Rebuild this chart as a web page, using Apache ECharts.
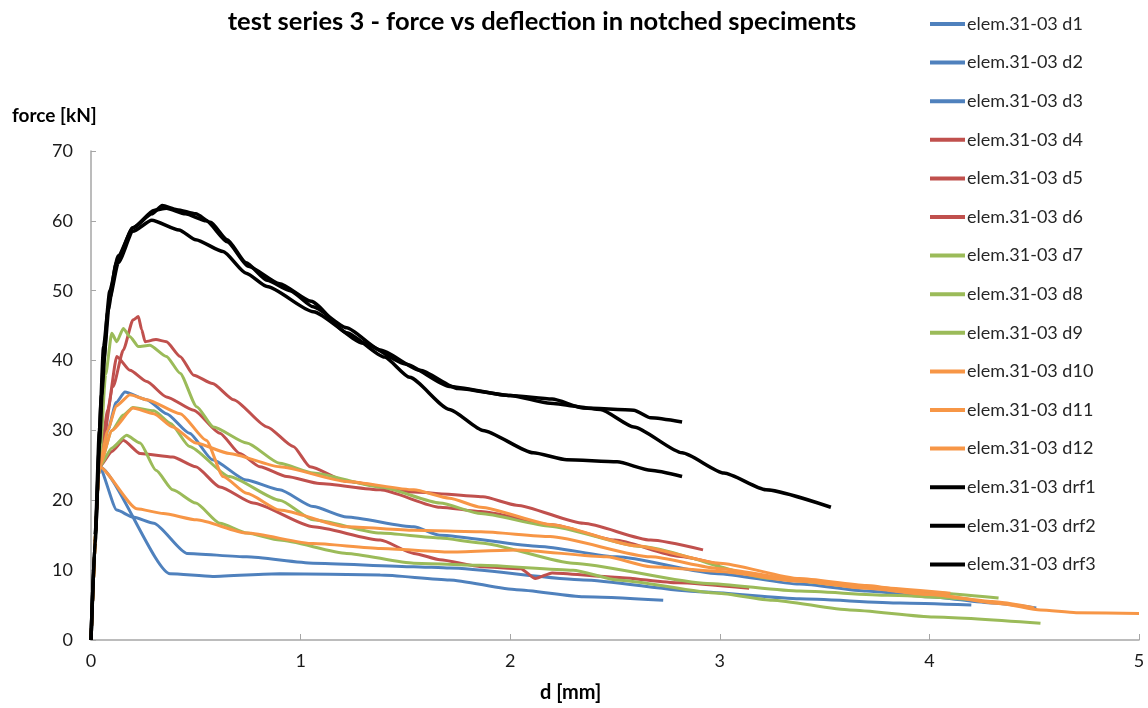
<!DOCTYPE html>
<html lang="en">
<head>
  <meta charset="UTF-8">
  <title>test series 3</title>
  <script src="https://cdn.jsdelivr.net/npm/echarts@6/dist/echarts.min.js"></script>
  <style>
    html, body { margin: 0; padding: 0; background: #fff; }
    #chart { width: 1148px; height: 708px; }
  </style>
</head>
<body>
  <div id="chart"></div>
  <script>
    // d [mm], force [kN]
    const d1 = [[0,0],[0.04,24.8],[0.08,30],[0.12,34],[0.162,35.5],[0.266,34.4],[0.36,32.4],[0.47,29.6],[0.58,25.8],[0.74,22.9],[0.9,21.5],[1.06,19.1],[1.22,17.6],[1.54,16.2],[1.665,15],[2.14,13.4],[2.51,11.9],[2.99,9.5],[3.38,8],[3.7,7],[4.0,6.2],[4.3,5.3],[4.51,4.6]]
    const d2 = [[0,0],[0.04,24.8],[0.377,9.5],[0.58,9.1],[0.9,9.5],[1.38,9.3],[1.71,8.6],[2.03,7.2],[2.35,6.2],[2.73,5.7]]
    const d3 = [[0,0],[0.04,24.8],[0.123,18.6],[0.2,17.6],[0.3,16.7],[0.457,12.4],[0.743,11.9],[1.06,11],[1.54,10.5],[1.71,10.3],[2.35,8.6],[2.9,6.9],[3.38,5.9],[3.86,5.3],[4.2,5.0]]
    const d4 = [[0,0],[0.04,24.8],[0.08,33],[0.123,40.6],[0.186,38.6],[0.266,37],[0.36,34.8],[0.49,32.9],[0.615,29.6],[0.71,26.7],[0.806,24.8],[0.934,23.4],[1.09,22.4],[1.38,21.5],[1.665,19],[1.86,18.4],[2.2,16.5],[2.5,14.3],[2.8,12],[3.0,10.8]]
    const d5 = [[0,0],[0.04,24.8],[0.106,36.3],[0.154,41.5],[0.2,45.8],[0.226,46.3],[0.242,44.4],[0.258,42.7],[0.31,43],[0.36,42.7],[0.425,40.6],[0.49,37.9],[0.58,36.7],[0.68,34.4],[0.84,30.5],[0.965,27.7],[1.045,24.8],[1.22,22.7],[1.54,21.2],[1.87,20.5],[2.03,19.3],[2.35,16.7],[2.67,14.3],[2.92,12.9]]
    const d6 = [[0,0],[0.04,24.8],[0.1,27],[0.154,28.6],[0.234,26.7],[0.39,26.2],[0.5,24.8],[0.615,21.9],[0.774,19.6],[1.06,16.2],[1.38,14.3],[1.54,12.4],[1.665,11.5],[1.86,10.5],[2.05,10.2],[2.12,8.8],[2.2,9.6],[2.5,9.0],[2.8,8.2],[3.14,7.4]]
    const d7 = [[0,0],[0.04,25],[0.07,38],[0.099,43.9],[0.123,42.7],[0.154,44.6],[0.186,43.4],[0.226,42],[0.28,42.2],[0.36,40.6],[0.425,38.2],[0.504,33.4],[0.584,30.5],[0.743,28.2],[0.9,25.3],[1.06,23.9],[1.38,21.9],[1.665,19.6],[1.86,18.1],[2.19,16.3],[2.62,13.4],[3.25,8.8],[3.7,7.5],[4.0,6.8],[4.33,6.0]]
    const d8 = [[0,0],[0.04,24.8],[0.1,30],[0.154,32.2],[0.2,33.3],[0.3,32.8],[0.38,31],[0.47,27.7],[0.66,23.4],[0.9,20],[1.06,17.2],[1.38,15.3],[1.665,14.6],[1.86,13.9],[2.3,11],[2.94,8.1],[3.38,7.0],[3.8,6.4],[4.2,5.8]]
    const d9 = [[0,0],[0.04,24.8],[0.1,27.5],[0.17,29.3],[0.234,28.2],[0.31,24.3],[0.39,21.5],[0.5,19.6],[0.615,16.7],[0.743,15.3],[0.9,14.3],[1.22,12.4],[1.54,11],[1.86,10.7],[2.3,10],[2.51,8.6],[2.99,6.7],[3.25,5.7],[3.62,4.3],[4.02,3.3],[4.53,2.4]]
    const d10 = [[0,0],[0.04,24.8],[0.08,30],[0.12,33.5],[0.186,35.1],[0.266,34.4],[0.425,32.4],[0.55,28.6],[0.63,23.4],[0.743,21],[0.9,18.6],[1.22,16.2],[1.54,15.7],[1.86,15.5],[2.19,14.8],[2.67,11.9],[3.0,10.2],[3.38,8.6],[3.7,7.6],[4.1,6.7]]
    const d11 = [[0,0],[0.04,24.8],[0.1,30],[0.2,33.2],[0.3,32.4],[0.39,30.5],[0.5,28.2],[0.66,26.7],[0.9,24.8],[1.22,22.7],[1.54,21.5],[1.71,20.3],[1.86,19],[2.2,16.5],[2.6,13.5],[3.0,11],[3.38,8.8],[3.7,7.8],[4.0,6.6],[4.34,5.2],[4.53,4.3],[4.7,3.9],[5.0,3.8]]
    const d12 = [[0,0],[0.04,24.8],[0.218,18.8],[0.345,18.1],[0.504,17.2],[0.743,15.3],[1.06,13.8],[1.38,13.1],[1.71,12.6],[2.03,12.9],[2.46,11.9],[2.67,10.5],[3.0,9.8],[3.38,8.4],[3.7,7.4],[4.0,6.5],[4.3,5.5],[4.5,4.6]]
    const drf1 = [[0,0],[0.02,15],[0.04,30],[0.06,42],[0.09,50],[0.13,55],[0.2,59],[0.29,61],[0.34,62.2],[0.41,61.6],[0.5,61],[0.57,59.8],[0.65,57.3],[0.74,54],[0.84,51.5],[0.95,50],[1.06,47.7],[1.22,44.7],[1.38,41.5],[1.57,38.6],[1.75,36],[2.0,35],[2.19,33.9],[2.43,33],[2.59,30.5],[2.82,26.8],[3.02,23.9],[3.22,21.5],[3.53,19]]
    const drf2 = [[0,0],[0.02,14],[0.04,28],[0.06,40],[0.09,49],[0.13,54],[0.2,58.5],[0.29,60.1],[0.42,58.7],[0.5,57.3],[0.63,55.6],[0.74,52.5],[0.84,50.6],[1.06,47],[1.3,42.5],[1.5,39.5],[1.71,36.3],[2.0,35],[2.2,34.5],[2.35,33.2],[2.59,32.9],[2.67,31.8],[2.82,31.2]]
    const drf3 = [[0,0],[0.02,15],[0.05,35],[0.08,47],[0.12,54],[0.2,59],[0.3,61.5],[0.36,61.8],[0.45,61],[0.55,60],[0.65,57],[0.75,53.5],[0.9,51],[1.05,48.5],[1.22,44],[1.4,40.5],[1.52,37.6],[1.71,33],[1.87,30],[2.11,26.8],[2.27,25.8],[2.51,25.5],[2.67,24.3],[2.82,23.4]]

    const names = ['elem.31-03 d1','elem.31-03 d2','elem.31-03 d3','elem.31-03 d4','elem.31-03 d5','elem.31-03 d6',
      'elem.31-03 d7','elem.31-03 d8','elem.31-03 d9','elem.31-03 d10','elem.31-03 d11','elem.31-03 d12',
      'elem.31-03 drf1','elem.31-03 drf2','elem.31-03 drf3']
    const allData = [d1, d2, d3, d4, d5, d6, d7, d8, d9, d10, d11, d12, drf1, drf2, drf3]
    const colors = ['#4F81BD','#4F81BD','#4F81BD','#C0504D','#C0504D','#C0504D',
      '#9BBB59','#9BBB59','#9BBB59','#F79646','#F79646','#F79646','#000','#000','#000']

    const font = 'Lato, "Open Sans", sans-serif'
    const myChart = echarts.init(document.getElementById('chart'))

    const option = {
      animation: false,
      color: colors,
      title: {
        text: 'test series 3 - force vs deflection in notched speciments',
        left: 537, top: 4, textAlign: 'center',
        textStyle: { fontFamily: font, fontSize: 25.5, fontWeight: 'bold', color: '#000' }
      },
      legend: {
        orient: 'vertical', left: 925, top: 10,
        icon: 'rect', itemWidth: 35, itemHeight: 4, itemGap: 20.6,
        textStyle: { fontFamily: font, fontSize: 18, lineHeight: 18, color: '#262626', padding: [0, 0, 0, -3] },
        data: names
      },
      graphic: [
        { type: 'text', left: 12, top: 106, style: { text: 'force [kN]', font: 'bold 19px ' + font, fill: '#000' } },
        { type: 'text', left: 540, top: 683, style: { text: 'd [mm]', font: 'bold 20px ' + font, fill: '#000' } }
      ],
      grid: { left: 91, right: 9, top: 151, bottom: 68, containLabel: false },
      xAxis: {
        type: 'value', min: 0, max: 5, interval: 1,
        axisLine: { lineStyle: { color: '#A6A6A6', width: 1.5 } },
        axisTick: { inside: true, length: 6, lineStyle: { color: '#A6A6A6' } },
        axisLabel: { fontFamily: font, fontSize: 18, color: '#1a1a1a', margin: 12 },
        splitLine: { show: false }
      },
      yAxis: {
        type: 'value', min: 0, max: 70, interval: 10,
        axisLine: { show: true, lineStyle: { color: '#A6A6A6', width: 1.5 } },
        axisTick: { show: true, inside: true, length: 5, lineStyle: { color: '#A6A6A6' } },
        axisLabel: { fontFamily: font, fontSize: 18, color: '#1a1a1a', margin: 18 },
        splitLine: { show: false }
      },
      series: allData.map((data, i) => ({
        name: names[i],
        type: 'line',
        data: data,
        symbol: 'none',
        smooth: 0.2,
        smoothMonotone: 'x',
        lineStyle: { width: i >= 12 ? 3.5 : 3, color: colors[i] },
        itemStyle: { color: colors[i] }
      }))
    }

    myChart.setOption(option)
  </script>
</body>
</html>
